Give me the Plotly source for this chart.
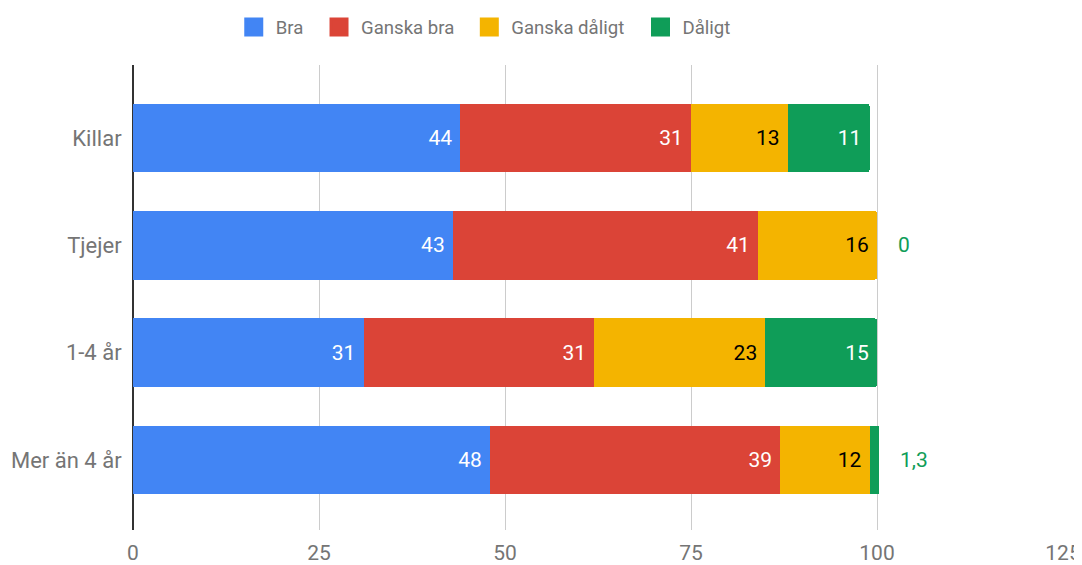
import plotly.graph_objects as go

categories = ["Killar", "Tjejer", "1-4 år", "Mer än 4 år"]
series_names = ["Bra", "Ganska bra", "Ganska dåligt", "Dåligt"]
bra = [44, 43, 31, 48]
ganska_bra = [31, 41, 31, 39]
ganska_daligt = [13, 16, 23, 12]
daligt = [11, 0, 15, 1.3]
x_ticks = [0, 25, 50, 75, 100, 125]

colors = ["#4285F4", "#DB4437", "#F4B400", "#0F9D58"]
text_colors = ["#ffffff", "#ffffff", "#000000", "#ffffff"]
series = [bra, ganska_bra, ganska_daligt, daligt]
legend_x = [0.2068, 0.2856, 0.4245, 0.5827]  # left edge of each legend entry

FONT = "Roboto"
SMALL = 2
LEGEND_IDS = ["legend", "legend2", "legend3", "legend4"]


def fmt(v):
    return (("%g" % v).replace(".", ","))


fig = go.Figure()
for name, vals, col, tcol, lid in zip(series_names, series, colors, text_colors, LEGEND_IDS):
    texts = [(fmt(v) + "\u00a0") if v >= SMALL else "" for v in vals]
    fig.add_trace(go.Bar(
        y=categories, x=vals, name=name, orientation="h",
        marker=dict(color=col, line=dict(width=0)),
        text=texts, textposition="inside", insidetextanchor="end",
        textfont=dict(family=FONT, size=21, color=tcol),
        textangle=0, showlegend=False, hoverinfo="x+name",
    ))
    # legend swatch
    fig.add_trace(go.Scatter(
        x=[None], y=[None], mode="markers", name=name, legend=lid,
        marker=dict(symbol="square", size=16, color=col, line=dict(width=3, color=col)),
        showlegend=True,
    ))

# outside labels for tiny segments
totals = [sum(s[i] for s in series) for i in range(len(categories))]
for i, v in enumerate(daligt):
    if v < SMALL:
        fig.add_annotation(x=totals[i], y=categories[i], xref="x", yref="y",
                           text=fmt(v), showarrow=False, xanchor="left",
                           xshift=19, font=dict(family=FONT, size=21, color=colors[3]))

legend_layout = {}
for lid, lx in zip(LEGEND_IDS, legend_x):
    legend_layout[lid] = dict(
        orientation="h", x=lx, xanchor="left", xref="container",
        y=0.9655, yanchor="middle", yref="container", itemwidth=34,
        bgcolor="rgba(0,0,0,0)", borderwidth=0,
        font=dict(family=FONT, size=18.6, color="#757575"))

fig.update_layout(
    barmode="stack", bargap=0.36, barcornerradius=3,
    width=1082, height=565,
    margin=dict(l=125, r=27, t=57, b=43, autoexpand=False),
    plot_bgcolor="white", paper_bgcolor="white",
    font=dict(family=FONT, color="#757575", size=21),
    xaxis=dict(range=[0, 125], tickvals=x_ticks, showgrid=True, gridcolor="#cccccc",
               gridwidth=1, zeroline=True, zerolinecolor="#333333", zerolinewidth=2,
               ticks="outside", ticklen=4, tickcolor="rgba(0,0,0,0)",
               tickfont=dict(family=FONT, size=21, color="#757575"),
               automargin=False, fixedrange=True),
    yaxis=dict(categoryorder="array", categoryarray=categories,
               range=[3.652, -0.68], showgrid=False, zeroline=False,
               ticks="outside", ticklen=6, tickcolor="rgba(0,0,0,0)",
               tickfont=dict(family=FONT, size=22, color="#757575"),
               automargin=False),
    **legend_layout,
)

fig.write_html("out.html")
